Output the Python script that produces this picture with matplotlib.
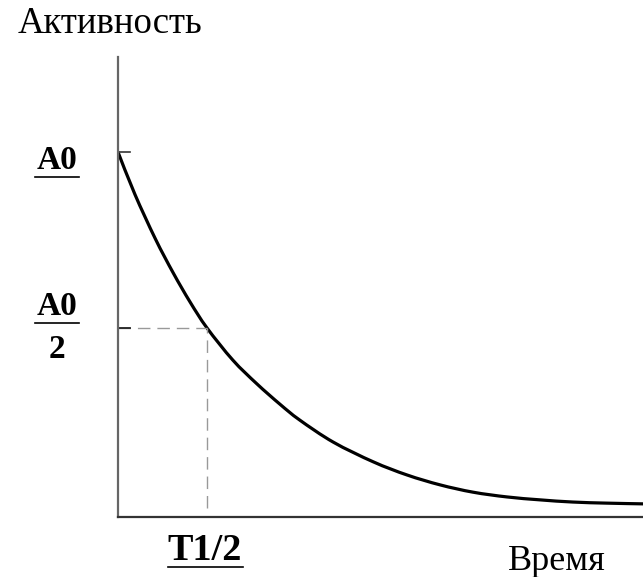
import matplotlib.pyplot as plt
from matplotlib.lines import Line2D
from matplotlib.path import Path
from matplotlib.patches import PathPatch

# время в единицах T1/2, активность в долях A0
t = [0.0, 0.19, 0.42, 0.62, 0.81, 1.0, 1.29, 1.56, 1.82, 2.04, 2.42,
     2.87, 3.25, 3.62, 3.99, 4.37, 4.74, 5.11, 5.49, 5.90]
a = [1.0, 0.884, 0.762, 0.669, 0.589, 0.518, 0.430, 0.365, 0.309, 0.266, 0.205,
     0.151, 0.115, 0.088, 0.068, 0.055, 0.047, 0.041, 0.038, 0.036]
t_half = 1.0
a_half = 0.518

W, H = 643, 577
fig = plt.figure(figsize=(W / 100, H / 100), dpi=100)
ax = fig.add_axes([118 / W, (H - 517) / H, (W - 118) / W, (517 - 57) / H])

def px(x, y):
    return x / W, 1 - y / H

# плавная кривая через точки (Catmull-Rom -> кубические Безье)
pts = list(zip(t, a))
verts = [pts[0]]
codes = [Path.MOVETO]
for i in range(len(pts) - 1):
    p0 = pts[i - 1] if i > 0 else pts[i]
    p1 = pts[i]
    p2 = pts[i + 1]
    p3 = pts[i + 2] if i + 2 < len(pts) else pts[i + 1]
    c1 = (p1[0] + (p2[0] - p0[0]) / 6, p1[1] + (p2[1] - p0[1]) / 6)
    c2 = (p2[0] - (p3[0] - p1[0]) / 6, p2[1] - (p3[1] - p1[1]) / 6)
    verts += [c1, c2, p2]
    codes += [Path.CURVE4] * 3
ax.add_patch(PathPatch(Path(verts, codes), facecolor='none', edgecolor='black',
                       lw=2.3, capstyle='round'))

ax.plot([0, t_half], [a_half, a_half], color='#999999', lw=1.0, dashes=(9, 5))
ax.plot([t_half, t_half], [0.025, a_half], color='#999999', lw=1.0, dashes=(9, 5))
# маленькие засечки у оси
ax.plot([0, 0.13], [1.0, 1.0], color='#333333', lw=1.2)
ax.plot([0, 0.13], [a_half, a_half], color='#222222', lw=1.3)

ax.set_xlim(0, 5.9)
ax.set_ylim(0, 460 / 365)
ax.set_xticks([])
ax.set_yticks([])
ax.spines['top'].set_visible(False)
ax.spines['right'].set_visible(False)
ax.spines['left'].set_color('#666666')
ax.spines['bottom'].set_color('#333333')
ax.spines['left'].set_linewidth(1.6)
ax.spines['bottom'].set_linewidth(1.6)
ax.patch.set_alpha(0)

serif = 'Liberation Serif'
fig.text(*px(18, 33), 'Активность', family=serif, fontsize=26.5, ha='left', va='baseline')
fig.text(*px(508, 570), 'Время', family=serif, fontsize=26, ha='left', va='baseline')

fig.text(*px(57, 169), 'A0', family=serif, fontsize=24, weight='bold', ha='center', va='baseline')
fig.add_artist(Line2D([35 / W, 79 / W], [1 - 177 / H] * 2, color='black', lw=1.2))
fig.text(*px(57, 315), 'A0', family=serif, fontsize=24, weight='bold', ha='center', va='baseline')
fig.add_artist(Line2D([35 / W, 79 / W], [1 - 323 / H] * 2, color='black', lw=1.2))
fig.text(*px(57, 358), '2', family=serif, fontsize=24, weight='bold', ha='center', va='baseline')

fig.text(*px(205, 560), 'T1/2', family=serif, fontsize=27.5, weight='bold', ha='center', va='baseline')
fig.add_artist(Line2D([168 / W, 243 / W], [1 - 567 / H] * 2, color='black', lw=1.2))

fig.savefig('out.png', dpi=100)
